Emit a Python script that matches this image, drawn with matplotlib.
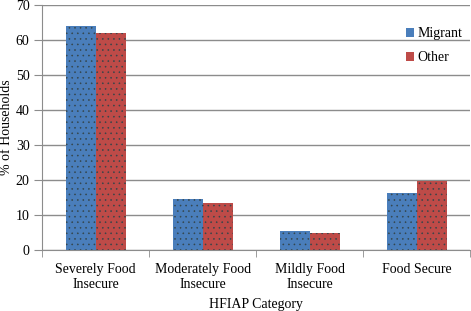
import numpy as np
import matplotlib
matplotlib.use('Agg')
import matplotlib.pyplot as plt

#### Data
categories = ['Severely Food\nInsecure', 'Moderately Food\nInsecure',
              'Mildly Food\nInsecure', 'Food Secure']
migrant = [64.0, 14.7, 5.3, 16.2]
other = [62.1, 13.3, 4.9, 19.8]
y_ticks = [0, 10, 20, 30, 40, 50, 60, 70]

plt.rcParams['font.family'] = ['Liberation Serif', 'DejaVu Serif']
plt.rcParams['hatch.linewidth'] = 0.4

fig = plt.figure(figsize=(4.71, 3.11), dpi=100)
ax = fig.add_axes([0.0892, 0.196, 0.909, 0.788])

x = np.arange(len(categories))
w = 0.28
blue = '#4a7ebb'
red = '#be4b48'
fs = 10

ax.bar(x - w/2, migrant, w, color=blue, label='Migrant', zorder=2)
ax.bar(x + w/2, other, w, color=red, label='Other', zorder=2)
# dotted texture like the original
ax.bar(x - w/2, migrant, w, facecolor='none', edgecolor='#34454a', hatch='...',
       linewidth=0, zorder=3)
ax.bar(x + w/2, other, w, facecolor='none', edgecolor='#34454a', hatch='...',
       linewidth=0, zorder=3)

ax.set_xlim(-0.5, len(categories) - 0.5)
ax.set_ylim(0, 70)
ax.set_yticks(y_ticks)
ax.yaxis.grid(True, color='#8c8c8c', linewidth=1.0, zorder=0)
ax.set_axisbelow(True)

ax.set_xticks(x)
ax.set_xticklabels(categories, fontsize=fs, linespacing=1.25)
ax.set_xticks(np.arange(-0.5, len(categories)), minor=True)
ax.tick_params(axis='x', which='major', length=0, pad=9)
ax.tick_params(axis='x', which='minor', length=5, color='#8c8c8c', direction='out')
ax.tick_params(axis='y', length=6, color='#8c8c8c', labelsize=fs, pad=3)

for s in ['top', 'right']:
    ax.spines[s].set_visible(False)
ax.spines['left'].set_color('#8c8c8c')
ax.spines['bottom'].set_color('#8c8c8c')

fig.text(7/471, 1 - 127/311, '% of Households', rotation=90, fontsize=fs,
         ha='center', va='center')
ax.set_xlabel('HFIAP Category', fontsize=fs, labelpad=5)

leg = ax.legend(loc='upper left', bbox_to_anchor=(0.834, 0.937), frameon=False,
                fontsize=fs, handlelength=0.6, handleheight=0.6, borderpad=0,
                handletextpad=0.2, labelspacing=0.8)

plt.savefig('out.png', dpi=100)
